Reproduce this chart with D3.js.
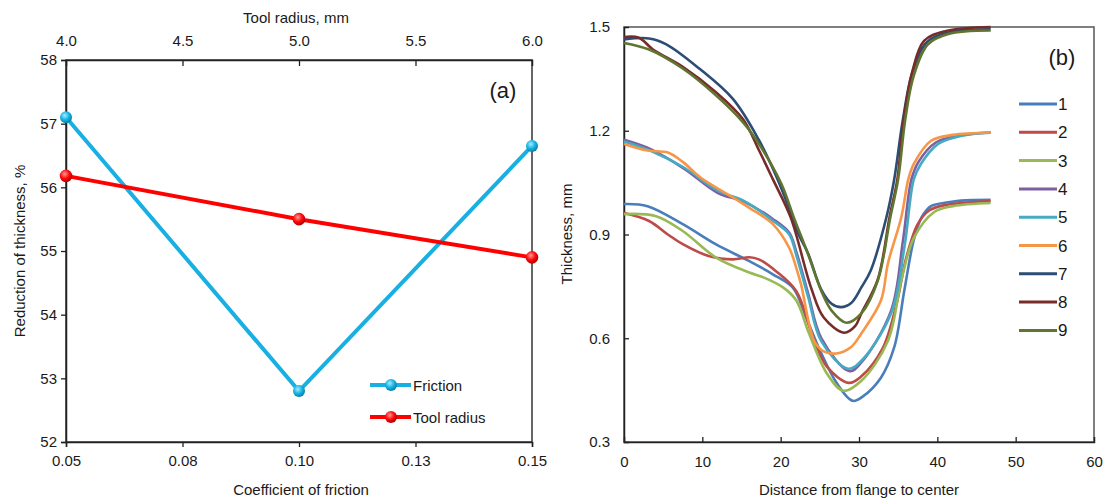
<!DOCTYPE html>
<html><head><meta charset="utf-8">
<script src="https://cdn.jsdelivr.net/npm/d3@7"></script>
<style>
html,body{margin:0;padding:0;background:#fff;}
svg{display:block;}
text{font-family:"Liberation Sans",Arial,sans-serif;fill:#1a1a1a;}
</style></head>
<body>
<svg id="chart" width="1111" height="504"></svg>
<script>
// ---------- Panel (a) data ----------
const frictionCoef = [0.05, 0.10, 0.15];
const frictionReduction = [57.1, 52.8, 56.65];
const toolRadius = [4.0, 5.0, 6.0];
const toolRadiusReduction = [56.18, 55.5, 54.9];
const frictionTicks = [0.05, 0.075, 0.10, 0.125, 0.15];
const frictionTickLabels = ["0.05", "0.08", "0.10", "0.13", "0.15"];
const radiusTicks = [4.0, 4.5, 5.0, 5.5, 6.0];
const reductionTicks = [52, 53, 54, 55, 56, 57, 58];

// ---------- Panel (b) data: [distance, thickness] ----------
const curve1 = [[0,0.988],[3,0.982],[7.5,0.93],[11.7,0.872],[16,0.823],[19,0.785],[21.6,0.745],[23.2,0.663],[25,0.566],[27.2,0.469],[29.2,0.419],[30.5,0.432],[32.8,0.486],[34.5,0.574],[35.8,0.74],[37,0.885],[38,0.95],[39.2,0.982],[41.4,0.993],[43,0.998],[46.8,1.0]];
const curve2 = [[0,0.962],[3.2,0.939],[5.6,0.9],[7.5,0.872],[10.9,0.837],[13.9,0.828],[16,0.834],[17.2,0.828],[19.4,0.794],[22,0.736],[24.1,0.605],[25.9,0.518],[28.7,0.471],[30.3,0.49],[33,0.57],[34.8,0.7],[36,0.83],[37.5,0.93],[39,0.97],[41,0.985],[46.8,0.997]];
const curve3 = [[0,0.959],[4.1,0.953],[7.5,0.91],[11.7,0.834],[16,0.79],[17.8,0.776],[20.3,0.747],[22,0.709],[23.6,0.615],[25.9,0.498],[28,0.448],[30.3,0.477],[33.7,0.593],[35.4,0.767],[37,0.89],[39.6,0.965],[42,0.982],[46.8,0.991]];
const curve4 = [[0,1.174],[3.4,1.147],[7.7,1.09],[12,1.02],[15.3,0.995],[19,0.945],[21.1,0.905],[22,0.85],[23.5,0.73],[25.2,0.6],[28.8,0.505],[30.3,0.53],[34.1,0.68],[35.6,0.88],[36.7,1.06],[37.6,1.11],[39.8,1.166],[43,1.187],[46.8,1.195]];
const curve5 = [[0,1.169],[3.4,1.142],[7.7,1.093],[12,1.026],[15.3,0.997],[19,0.94],[21.1,0.9],[22,0.84],[23.5,0.72],[25.2,0.591],[28.6,0.512],[30.3,0.535],[34.1,0.672],[35.8,0.864],[37,1.06],[37.9,1.104],[40.1,1.162],[43,1.185],[46.8,1.194]];
const curve6 = [[0,1.162],[3,1.143],[5.6,1.137],[7.5,1.11],[9.8,1.064],[14,1.006],[16,0.977],[19,0.93],[21.1,0.861],[22,0.803],[22.6,0.756],[24.3,0.591],[25.5,0.562],[27.1,0.556],[29,0.575],[30.3,0.614],[32.8,0.709],[33.7,0.817],[35.4,0.95],[36.3,1.06],[37,1.104],[39.2,1.171],[42,1.188],[46.8,1.195]];
const curve7 = [[0,1.464],[3.2,1.467],[5.4,1.45],[9.6,1.38],[13.9,1.292],[17.2,1.174],[19.6,1.06],[21,0.98],[22.3,0.9],[23.5,0.845],[25.2,0.74],[26.5,0.7],[27.7,0.69],[29,0.702],[30.3,0.747],[31.5,0.796],[33.5,0.95],[34.5,1.06],[35.6,1.232],[36.8,1.368],[38.6,1.455],[41.4,1.484],[46.8,1.493]];
const curve8 = [[0,1.471],[1.9,1.469],[3.7,1.435],[7.5,1.385],[11.7,1.312],[15.2,1.233],[17.2,1.145],[19,1.06],[21.3,0.948],[23.9,0.745],[25.5,0.66],[28.1,0.616],[29.5,0.635],[30.3,0.672],[32.4,0.77],[33.9,0.95],[34.9,1.06],[35.7,1.232],[36.8,1.37],[38.3,1.46],[41,1.488],[46.8,1.5]];
const curve9 = [[0,1.454],[3.2,1.435],[7.5,1.38],[11.7,1.303],[15.2,1.224],[17.5,1.152],[20.1,1.046],[21.7,0.948],[23.5,0.843],[25.2,0.736],[26.5,0.68],[28.4,0.645],[30.3,0.672],[32.4,0.767],[34,0.95],[35,1.06],[35.9,1.232],[37,1.36],[38.8,1.45],[41.4,1.48],[46.8,1.49]];
const seriesNames = ["1","2","3","4","5","6","7","8","9"];
const seriesColors = ["#4A7EBB","#BE4B48","#98B954","#7D60A0","#46AAC5","#F79646","#2C4D75","#772C2A","#5F7530"];
const distanceTicks = [0,10,20,30,40,50,60];
const thicknessTicks = [0.3,0.6,0.9,1.2,1.5];

const svg = d3.select("#chart");
const defs = svg.append("defs");
function ballGrad(id, light, mid, dark){
  const g = defs.append("radialGradient").attr("id", id).attr("cx","40%").attr("cy","35%").attr("r","65%");
  g.append("stop").attr("offset","0%").attr("stop-color",light);
  g.append("stop").attr("offset","55%").attr("stop-color",mid);
  g.append("stop").attr("offset","100%").attr("stop-color",dark);
}
ballGrad("gBlue","#a8ecff","#14b4e6","#0a7fa8");
ballGrad("gRed","#ff9a9a","#ff0a0a","#b00000");

// ================= Panel (a) =================
const A = {l:66, r:532, t:60, b:442};
const xF = d3.scaleLinear().domain([0.05,0.15]).range([A.l,A.r]);
const xR = d3.scaleLinear().domain([4,6]).range([A.l,A.r]);
const yA = d3.scaleLinear().domain([52,58]).range([A.b,A.t]);

const gA = svg.append("g");
gA.append("rect").attr("x",A.l).attr("y",A.t).attr("width",A.r-A.l).attr("height",A.b-A.t)
  .attr("fill","none").attr("stroke","#333").attr("stroke-width",1.5);

const axL = gA.append("g").attr("transform",`translate(${A.l},0)`)
  .call(d3.axisLeft(yA).tickValues(reductionTicks).tickSize(5).tickPadding(4).tickFormat(d3.format("d")));
const axB = gA.append("g").attr("transform",`translate(0,${A.b})`)
  .call(d3.axisBottom(xF).tickValues(frictionTicks).tickSize(5).tickPadding(8).tickFormat((d,i)=>frictionTickLabels[i]));
const axT = gA.append("g").attr("transform",`translate(0,${A.t})`)
  .call(d3.axisTop(xR).tickValues(radiusTicks).tickSize(-6).tickPadding(14).tickFormat(d3.format(".1f")));
[axL,axB,axT].forEach(a=>{
  a.select(".domain").attr("stroke","#222").attr("stroke-width",1.5);
  a.selectAll(".tick line").attr("stroke","#222").attr("stroke-width",1.3);
  a.selectAll("text").style("font-size","15px").attr("fill","#1a1a1a");
});
axT.selectAll(".tick").filter(d=>d===4||d===6).select("line").remove();

gA.append("text").attr("x",296).attr("y",23).attr("text-anchor","middle").style("font-size","15px").text("Tool radius, mm");
gA.append("text").attr("x",301).attr("y",495).attr("text-anchor","middle").style("font-size","15px").text("Coefficient of friction");
gA.append("text").attr("transform","translate(25,251) rotate(-90)").attr("text-anchor","middle").style("font-size","15px").text("Reduction of thickness, %");
gA.append("text").attr("x",503).attr("y",98).attr("text-anchor","middle").style("font-size","22px").text("(a)");

const fricPts = frictionCoef.map((c,i)=>[xF(c), yA(frictionReduction[i])]);
const radPts = toolRadius.map((r,i)=>[xR(r), yA(toolRadiusReduction[i])]);
gA.append("path").attr("d",d3.line()(fricPts)).attr("fill","none").attr("stroke","#18B0E2").attr("stroke-width",4);
gA.append("path").attr("d",d3.line()(radPts)).attr("fill","none").attr("stroke","#FF0000").attr("stroke-width",4);
gA.selectAll("circle.f").data(fricPts).join("circle").attr("cx",d=>d[0]).attr("cy",d=>d[1]).attr("r",6).attr("fill","url(#gBlue)");
gA.selectAll("circle.r").data(radPts).join("circle").attr("cx",d=>d[0]).attr("cy",d=>d[1]).attr("r",6.3).attr("fill","url(#gRed)");

// legend (a)
const legA = [["Friction","#18B0E2","url(#gBlue)",385],["Tool radius","#FF0000","url(#gRed)",417]];
legA.forEach(([name,col,grad,y])=>{
  gA.append("line").attr("x1",370).attr("x2",411).attr("y1",y).attr("y2",y).attr("stroke",col).attr("stroke-width",4);
  gA.append("circle").attr("cx",391).attr("cy",y).attr("r",6).attr("fill",grad);
  gA.append("text").attr("x",413).attr("y",y+5.5).style("font-size","15px").text(name);
});

// ================= Panel (b) =================
const B = {l:624, r:1094, t:27, b:442};
const xB = d3.scaleLinear().domain([0,60]).range([B.l,B.r]);
const yB = d3.scaleLinear().domain([0.3,1.5]).range([B.b,B.t]);
const gB = svg.append("g");
gB.append("rect").attr("x",B.l).attr("y",B.t).attr("width",B.r-B.l).attr("height",B.b-B.t)
  .attr("fill","none").attr("stroke","#555").attr("stroke-width",1.5);
const bxL = gB.append("g").attr("transform",`translate(${B.l},0)`)
  .call(d3.axisLeft(yB).tickValues(thicknessTicks).tickSize(-5).tickPadding(14).tickFormat(d3.format(".1f")));
const bxB = gB.append("g").attr("transform",`translate(0,${B.b})`)
  .call(d3.axisBottom(xB).tickValues(distanceTicks).tickSize(-5).tickPadding(14).tickFormat(d3.format("d")));
[bxL,bxB].forEach(a=>{
  a.select(".domain").attr("stroke","#222").attr("stroke-width",1.5);
  a.selectAll(".tick line").attr("stroke","#222").attr("stroke-width",1.3);
  a.selectAll("text").style("font-size","15px").attr("fill","#1a1a1a");
});
bxL.selectAll(".tick").filter(d=>d===1.5||d===0.3).select("line").remove();
bxB.selectAll(".tick").filter(d=>d===0||d===60).select("line").remove();

gB.append("text").attr("x",859).attr("y",495).attr("text-anchor","middle").style("font-size","15px").text("Distance from flange to center");
gB.append("text").attr("transform","translate(572,234) rotate(-90)").attr("text-anchor","middle").style("font-size","15px").text("Thickness, mm");
gB.append("text").attr("x",1062).attr("y",65).attr("text-anchor","middle").style("font-size","22px").text("(b)");

const curves = [curve1,curve2,curve3,curve4,curve5,curve6,curve7,curve8,curve9];
const lineB = d3.line().x(d=>xB(d[0])).y(d=>yB(d[1])).curve(d3.curveCatmullRom.alpha(0.5));
curves.forEach((c,i)=>{
  gB.append("path").attr("d",lineB(c)).attr("fill","none").attr("stroke",seriesColors[i]).attr("stroke-width",2.6).attr("stroke-linejoin","round");
});
seriesNames.forEach((n,i)=>{
  const y = 104 + i*28.3;
  gB.append("line").attr("x1",1019).attr("x2",1057).attr("y1",y).attr("y2",y).attr("stroke",seriesColors[i]).attr("stroke-width",3);
  gB.append("text").attr("x",1058).attr("y",y+6).style("font-size","17px").text(n);
});
</script>
</body></html>
